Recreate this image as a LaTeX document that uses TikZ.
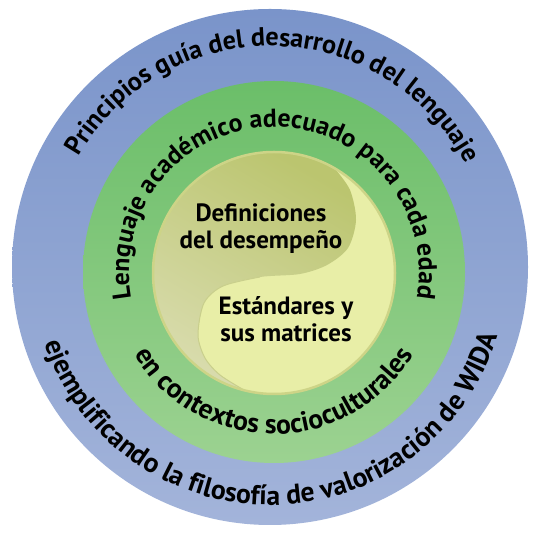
\documentclass[tikz,border=0pt]{standalone}
\usepackage{fontspec}
\setmainfont{PT Sans}
\usetikzlibrary{decorations.text}
\definecolor{bluetop}{HTML}{7A94CA}
\definecolor{bluebot}{HTML}{A3B4DA}
\definecolor{greentop}{HTML}{6BBE69}
\definecolor{greenbot}{HTML}{9CD291}
\definecolor{olive}{HTML}{BBC56F}
\definecolor{paleolive}{HTML}{D9DCAE}
\definecolor{paleyellow}{HTML}{E8EEA7}
\definecolor{rimyellow}{HTML}{CDD487}
\definecolor{lobeedge}{HTML}{C9CF8C}
\newcommand\ringfontA{\fontsize{26.2}{26.2}\selectfont\bfseries}
\newcommand\ringfontB{\fontsize{27.6}{27.6}\selectfont\bfseries}
\newcommand\ringfontC{\fontsize{25.8}{25.8}\selectfont\bfseries}
\newcommand\ringfontD{\fontsize{27.6}{27.6}\selectfont\bfseries}
\begin{document}
\begin{tikzpicture}[x=1pt,y=1pt,
  ringtext/.style={decorate, decoration={text along path, text align=center, text={#1}}},
  innertext/.style={font=\fontsize{25}{27}\selectfont\bfseries, align=center, text=black, inner sep=0pt}]
\useasboundingbox (0,0) rectangle (533,535);
\coordinate (cb) at (270,268);
\coordinate (cg) at (274,263);
\coordinate (cy) at (274,262);
\coordinate (T) at (334.5,366.8);
\coordinate (B) at (244.7,144.6);
% rings
\shade[top color=bluetop, bottom color=bluebot] (cb) circle[radius=258pt];
\shade[top color=greentop, bottom color=greenbot] (cg) circle[radius=191pt];
\fill[paleyellow] (cy) circle[radius=121pt];
% dark lobe
\shade[top color=olive, middle color=olive, bottom color=paleolive, shading angle=-30]
  plot[smooth] coordinates {(T) (350,345) (356,315) (348,287) (327,270) (300,261) (260,258) (223,249) (204,232) (198,200) (205,177) (220,160) (B)}
  arc[start angle=256, end angle=60, radius=121pt] -- cycle;
\draw[lobeedge, line width=1pt] plot[smooth] coordinates {(260,258) (223,249) (204,232) (198,200) (205,177) (220,160) (B)};
\draw[rimyellow, line width=2.5pt] (cy) circle[radius=121pt];
% ring texts
\path[ringtext={|\ringfontA|Principios guía del desarrollo del lenguaje}]
  ([shift={(174:221pt)}]cb) arc[start angle=174, end angle=4, radius=221pt];
\path[ringtext={|\ringfontB|ejemplificando la filosofía de valorización de WIDA}]
  ([shift={(181:238pt)}]cb) arc[start angle=181, end angle=361, radius=238pt];
\path[ringtext={|\ringfontC|Lenguaje académico adecuado para cada edad}]
  ([shift={(205:145pt)}]cg) arc[start angle=205, end angle=-25, radius=145pt];
\path[ringtext={|\ringfontD|en contextos socioculturales}]
  ([shift={(185:162pt)}]cg) arc[start angle=185, end angle=355, radius=162pt];
% inner texts
\node[innertext] (def) at (261,306.5) {Definiciones\\del desempeño};
\node[innertext] (est) at (286,215.5) {Estándares y\\sus matrices};
\end{tikzpicture}
\end{document}
